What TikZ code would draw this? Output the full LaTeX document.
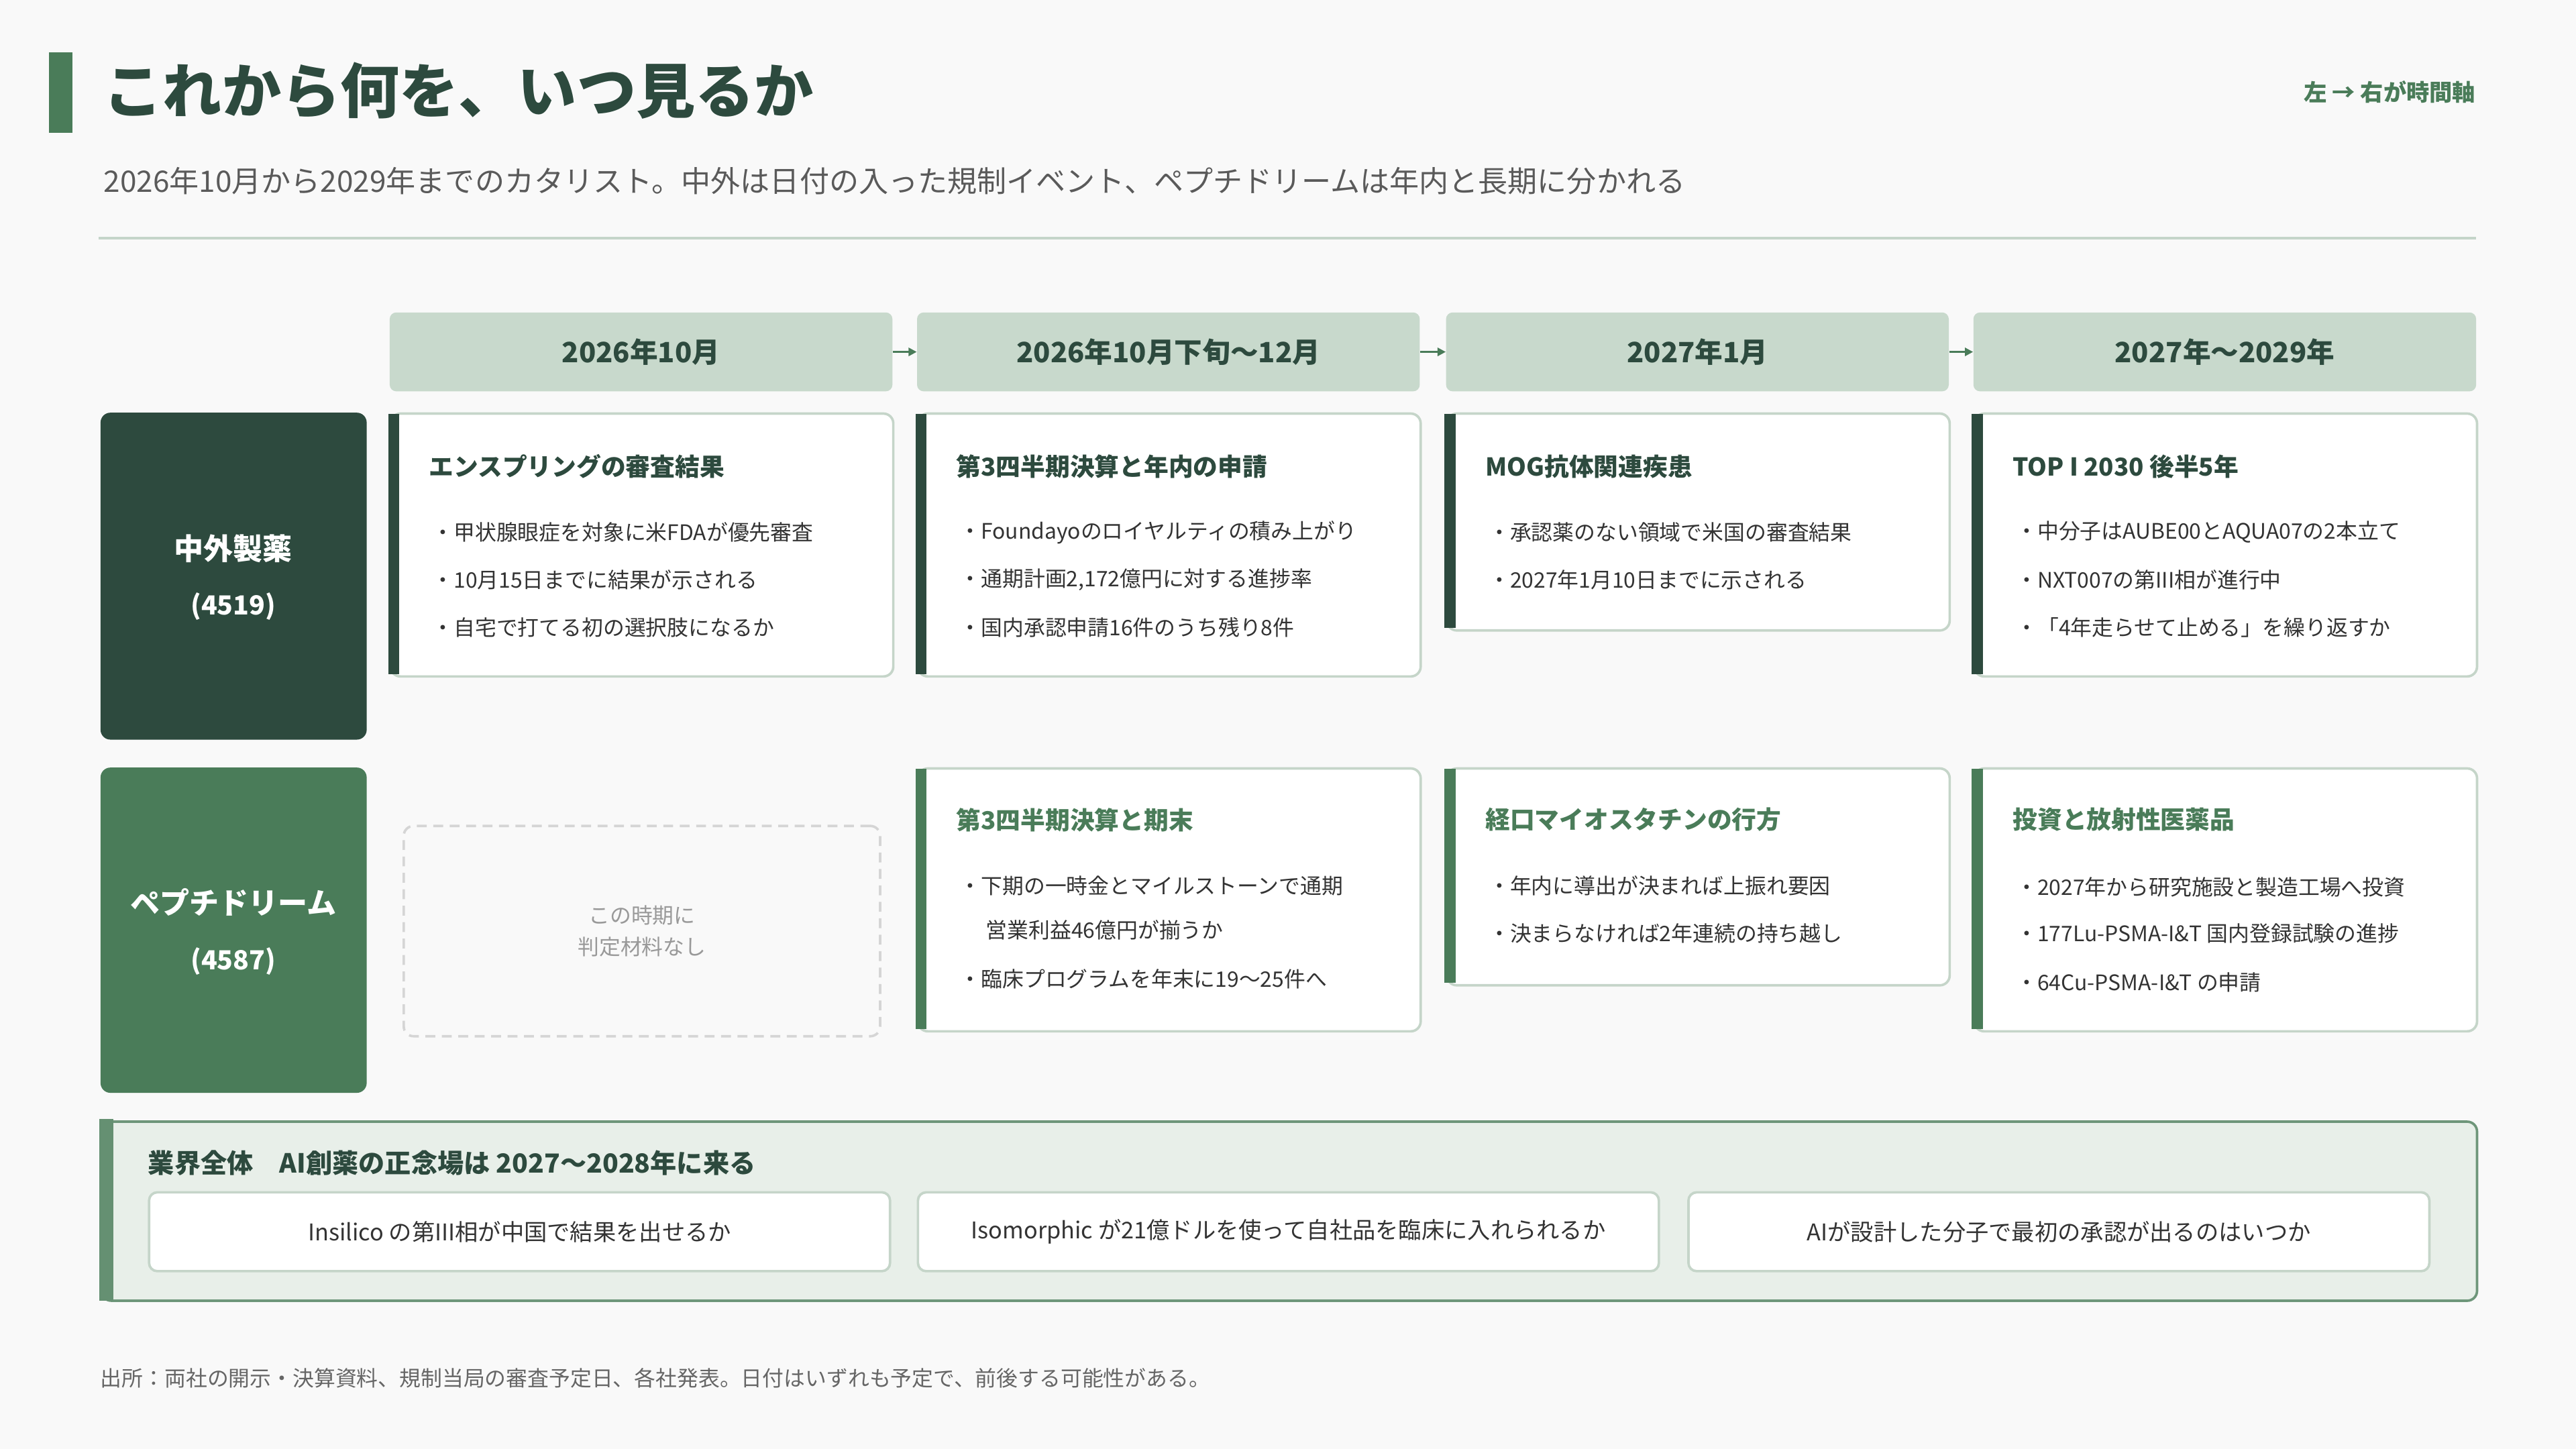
\documentclass[tikz,border=0pt]{standalone}
\usepackage{fontspec}
\setmainfont{Noto Sans CJK JP}
\usetikzlibrary{arrows.meta}
\definecolor{dk}{HTML}{2D4A3E}
\definecolor{md}{HTML}{4A7C59}
\definecolor{hd}{HTML}{C8D9CC}
\definecolor{bd}{HTML}{C5D5C9}
\definecolor{bg}{HTML}{F9F9F9}
\definecolor{pn}{HTML}{E8EFE9}
\definecolor{tx}{HTML}{333333}
\definecolor{gy}{HTML}{5A5A5A}
\tikzset{
 hdr/.style={fill=hd,rounded corners=4pt,inner sep=0pt,font=\fontsize{17}{20}\selectfont\bfseries,text=dk},
 card/.style={draw=bd,line width=1.5pt,fill=white,rounded corners=6pt,inner sep=0pt},
 ctitle/.style={anchor=west,inner sep=0pt,font=\fontsize{15}{18}\selectfont\bfseries},
 bul/.style={anchor=west,inner sep=0pt,font=\fontsize{13}{16}\selectfont,text=tx},
 lab/.style={rounded corners=6pt,inner sep=0pt,text=white},
 tarr/.style={-{Triangle[length=5pt,width=5pt]},line width=1.2pt,draw=md},
 sub/.style={draw=bd,line width=1.5pt,fill=white,rounded corners=5pt,inner sep=0pt,font=\fontsize{14}{17}\selectfont,text=tx},
}
\newcommand\mkcard[6]{% name, x1, y1, x2, y2, barcolor
 \node[card,minimum width={#4-#2},minimum height={#5-#3},anchor=north west] (#1) at (#2,-#3) {};
 \fill[#6] (#2-0.75,-#3-0.75) rectangle (#2+6,-#5+0.75);
}
\begin{document}
\begin{tikzpicture}[x=1pt,y=1pt]
\useasboundingbox (0,0) rectangle (1568,-882);
\fill[bg] (0,0) rectangle (1568,-882);
% header
\fill[md] (30,-32) rectangle (44,-81);
\node[anchor=west,inner sep=0pt,font=\fontsize{36}{40}\selectfont\bfseries,text=dk] (title) at (63,-55) {これから何を、いつ見るか};
\node[anchor=east,inner sep=0pt,font=\fontsize{14}{17}\selectfont\bfseries,text=md] (axis) at (1507,-56) {左 → 右が時間軸};
\node[anchor=west,inner sep=0pt,font=\fontsize{18}{22}\selectfont,text=gy] (subtitle) at (63,-110) {2026年10月から2029年までのカタリスト。中外は日付の入った規制イベント、ペプチドリームは年内と長期に分かれる};
\draw[bd,line width=1.5pt] (60,-145) -- (1507,-145);
% column headers
\node[hdr,minimum width=306,minimum height=48,anchor=north west] (h1) at (237,-190) {2026年10月};
\node[hdr,minimum width=306,minimum height=48,anchor=north west] (h2) at (558,-190) {2026年10月下旬〜12月};
\node[hdr,minimum width=306,minimum height=48,anchor=north west] (h3) at (880,-190) {2027年1月};
\node[hdr,minimum width=306,minimum height=48,anchor=north west] (h4) at (1201,-190) {2027年〜2029年};
\draw[tarr] (h1.east) -- (h2.west);
\draw[tarr] (h2.east) -- (h3.west);
\draw[tarr] (h3.east) -- (h4.west);
% row labels
\node[lab,fill=dk,minimum width=162,minimum height=199,anchor=north west] (r1) at (61,-251) {};
\node[text=white,font=\fontsize{18}{22}\selectfont\bfseries,inner sep=0pt] (r1a) at (142,-334) {中外製薬};
\node[text=white,font=\fontsize{16}{20}\selectfont\bfseries,inner sep=0pt] (r1b) at (142,-369) {(4519)};
\node[lab,fill=md,minimum width=162,minimum height=198,anchor=north west] (r2) at (61,-467) {};
\node[text=white,font=\fontsize{18}{22}\selectfont\bfseries,inner sep=0pt] (r2a) at (142,-549) {ペプチドリーム};
\node[text=white,font=\fontsize{16}{20}\selectfont\bfseries,inner sep=0pt] (r2b) at (142,-585) {(4587)};
% row 1 cards
\mkcard{c11}{237}{251}{543}{411}{dk}
\node[ctitle,text=dk] at (261,-284) {エンスプリングの審査結果};
\node[bul] at (263,-324) {・甲状腺眼症を対象に米FDAが優先審査};
\node[bul] at (263,-353) {・10月15日までに結果が示される};
\node[bul] at (263,-382) {・自宅で打てる初の選択肢になるか};
\mkcard{c12}{558}{251}{864}{411}{dk}
\node[ctitle,text=dk] at (582,-284) {第3四半期決算と年内の申請};
\node[bul] at (584,-324) {・Foundayoのロイヤルティの積み上がり};
\node[bul] at (584,-353) {・通期計画2,172億円に対する進捗率};
\node[bul] at (584,-382) {・国内承認申請16件のうち残り8件};
\mkcard{c13}{880}{251}{1186}{383}{dk}
\node[ctitle,text=dk] at (904,-284) {MOG抗体関連疾患};
\node[bul] at (906,-324) {・承認薬のない領域で米国の審査結果};
\node[bul] at (906,-353) {・2027年1月10日までに示される};
\mkcard{c14}{1201}{251}{1507}{411}{dk}
\node[ctitle,text=dk] at (1225,-284) {TOP I 2030 後半5年};
\node[bul] at (1227,-324) {・中分子はAUBE00とAQUA07の2本立て};
\node[bul] at (1227,-353) {・NXT007の第III相が進行中};
\node[bul] at (1227,-382) {・「4年走らせて止める」を繰り返すか};
% row 2
\node[draw={rgb,255:red,213;green,213;blue,213},dash pattern=on 6pt off 4pt,line width=1.5pt,rounded corners=6pt,minimum width=290,minimum height=128,anchor=north west,inner sep=0pt] (empty) at (245,-502) {};
\node[align=center,font=\fontsize{13}{19}\selectfont,text={rgb,255:red,153;green,153;blue,153}] at (empty.center) {この時期に\\判定材料なし};
\mkcard{c22}{558}{467}{864}{627}{md}
\node[ctitle,text=md] at (582,-499) {第3四半期決算と期末};
\node[bul] at (584,-539) {・下期の一時金とマイルストーンで通期};
\node[bul] at (600,-566) {営業利益46億円が揃うか};
\node[bul] at (584,-596) {・臨床プログラムを年末に19〜25件へ};
\mkcard{c23}{880}{467}{1186}{599}{md}
\node[ctitle,text=md] at (904,-499) {経口マイオスタチンの行方};
\node[bul] at (906,-539) {・年内に導出が決まれば上振れ要因};
\node[bul] at (906,-568) {・決まらなければ2年連続の持ち越し};
\mkcard{c24}{1201}{467}{1507}{627}{md}
\node[ctitle,text=md] at (1225,-499) {投資と放射性医薬品};
\node[bul] at (1227,-540) {・2027年から研究施設と製造工場へ投資};
\node[bul] at (1227,-568) {・177Lu-PSMA-I\&T 国内登録試験の進捗};
\node[bul] at (1227,-598) {・64Cu-PSMA-I\&T の申請};
% bottom panel
\node[draw=md!80,fill=pn,line width=1.5pt,rounded corners=6pt,minimum width=1446,minimum height=109,anchor=north west,inner sep=0pt] (panel) at (61,-682) {};
\fill[md!85] (60.25,-681.25) rectangle (69,-791.75);
\node[anchor=west,inner sep=0pt,font=\fontsize{16}{19}\selectfont\bfseries,text=dk] (ptitle) at (90,-708) {業界全体　AI創薬の正念場は 2027〜2028年に来る};
\node[sub,minimum width=451,minimum height=48,anchor=north west] (s1) at (90,-725) {Insilico の第III相が中国で結果を出せるか};
\node[sub,minimum width=451,minimum height=48,anchor=north west] (s2) at (558,-725) {Isomorphic が21億ドルを使って自社品を臨床に入れられるか};
\node[sub,minimum width=451,minimum height=48,anchor=north west] (s3) at (1027,-725) {AIが設計した分子で最初の承認が出るのはいつか};
% footer
\node[anchor=west,inner sep=0pt,font=\fontsize{13}{16}\selectfont,text={rgb,255:red,102;green,102;blue,102}] (foot) at (61,-839) {出所：両社の開示・決算資料、規制当局の審査予定日、各社発表。日付はいずれも予定で、前後する可能性がある。};
\end{tikzpicture}
\end{document}
